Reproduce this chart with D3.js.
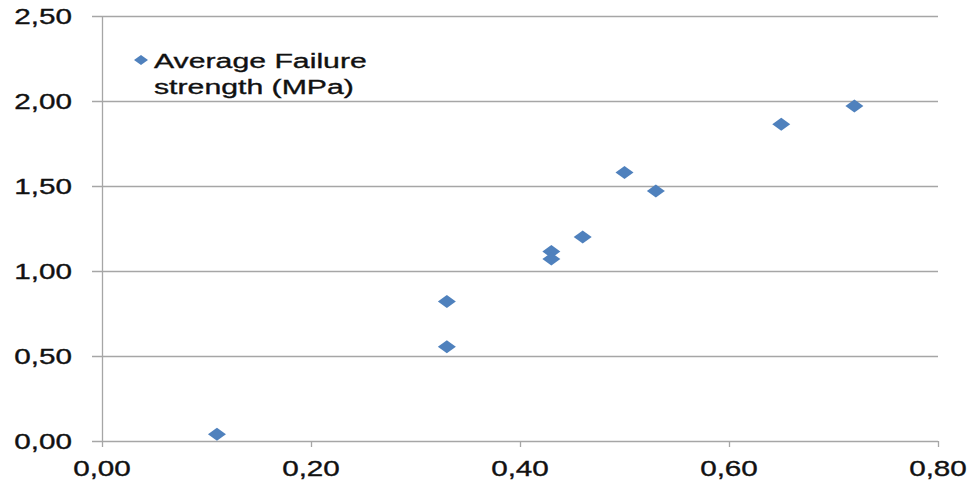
<!DOCTYPE html>
<html><head><meta charset="utf-8">
<script src="https://cdn.jsdelivr.net/npm/d3@7"></script>
<style>body{margin:0;background:#fff;} svg{display:block;}</style>
</head><body>
<svg id="c" width="978" height="481"></svg>
<script>
const xValues = [0.11, 0.33, 0.33, 0.43, 0.43, 0.46, 0.50, 0.53, 0.65, 0.72];
const yValues = [0.04, 0.82, 0.555, 1.114, 1.07, 1.20, 1.58, 1.47, 1.863, 1.97];
const seriesName = ["Average Failure", "strength (MPa)"];
const xTicks = [0, 0.2, 0.4, 0.6, 0.8];
const yTicks = [0, 0.5, 1.0, 1.5, 2.0, 2.5];

(function () {
const svg = d3.select("#c");
const mLeft = 102, mRight = 938, mTop = 16, mBottom = 441;
const x = d3.scaleLinear().domain([0, 0.8]).range([mLeft, mRight]);
const y = d3.scaleLinear().domain([0, 2.5]).range([mBottom, mTop]);
const fmt = v => d3.format(".2f")(v).replace(".", ",");
const SX = 1.38, FS = 21.5, FONT = "Liberation Sans, Arial, sans-serif";
const grid = "#a6a6a6", blue = "#4f81bd", ink = "#111";

// gridlines
svg.append("g").selectAll("line").data(yTicks).join("line")
  .attr("x1", mLeft - 10).attr("x2", mRight)
  .attr("y1", d => y(d) + 0.5).attr("y2", d => y(d) + 0.5)
  .attr("stroke", grid).attr("stroke-width", 1.3);
// y axis line
svg.append("line").attr("x1", mLeft + 0.5).attr("x2", mLeft + 0.5)
  .attr("y1", mTop).attr("y2", mBottom).attr("stroke", grid).attr("stroke-width", 1.3);
// x ticks
svg.append("g").selectAll("line").data(xTicks).join("line")
  .attr("x1", d => x(d) + 0.5).attr("x2", d => x(d) + 0.5)
  .attr("y1", mBottom).attr("y2", mBottom + 6)
  .attr("stroke", grid).attr("stroke-width", 1.3);

const styleText = s => s.attr("font-family", FONT).attr("fill", ink)
  .attr("stroke", ink).attr("stroke-width", 0.35);

// y labels
svg.append("g").selectAll("text").data(yTicks).join("text")
  .attr("transform", d => `translate(${mLeft - 30},${y(d) + 7.8}) scale(${SX},1)`)
  .attr("text-anchor", "end").attr("font-size", FS).call(styleText).text(fmt);
// x labels
svg.append("g").selectAll("text").data(xTicks).join("text")
  .attr("transform", d => `translate(${x(d)},${mBottom + 34.5}) scale(${SX},1)`)
  .attr("text-anchor", "middle").attr("font-size", FS).call(styleText).text(fmt);

// diamond marker path
const diamond = (hw, hh) => `M0,${-hh}L${hw},0L0,${hh}L${-hw},0Z`;
const pts = xValues.map((v, i) => [v, yValues[i]]);
svg.append("g").selectAll("path").data(pts).join("path")
  .attr("d", diamond(9, 6.5))
  .attr("transform", d => `translate(${x(d[0])},${y(d[1])})`)
  .attr("fill", blue);

// legend
const lg = svg.append("g");
lg.append("path").attr("d", diamond(7, 5)).attr("transform", "translate(141,60)").attr("fill", blue);
lg.selectAll("text").data(seriesName).join("text")
  .attr("transform", (d, i) => `translate(154,${67.5 + i * 26}) scale(1.44,1)`)
  .attr("font-size", 21).call(styleText).text(d => d);
})();
</script>
</body></html>
